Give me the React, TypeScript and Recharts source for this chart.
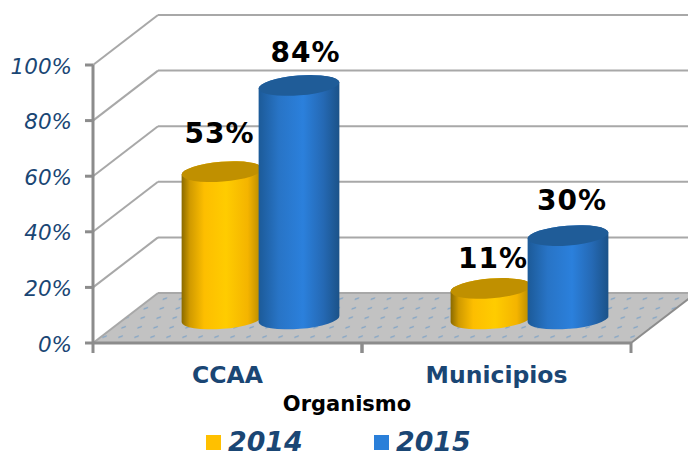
import { Bar, BarChart, CartesianGrid, Legend, LabelList, XAxis, YAxis } from "recharts";

const categories = ["CCAA", "Municipios"];
const values2014 = [53, 11];
const values2015 = [84, 30];
const yTicks = [0, 20, 40, 60, 80, 100];

const chartData = categories.map((name, i) => ({
  name,
  y2014: values2014[i],
  y2015: values2015[i],
}));

const FONT = "'DejaVu Sans', Verdana, sans-serif";
const NAVY = "#1a4674";
const AXIS_GREY = "#8c8c8c";
const GRID_GREY = "#a8a8a8";

// fake 3D: the back wall sits this far from the front plane
const DEPTH_X = 65;
const DEPTH_Y = -50;
// cylinders stand halfway into the floor
const BAR_DX = 32.5;
const BAR_DY = -24;
const ELLIPSE_RY = 9.9;
const TILT = 4.5;

// hand placement of the value labels, per category: [dx, dy from bar top]
const nudge2014 = [[-2.5, -62.5], [2, -54]];
const nudge2015 = [[6.5, -56.5], [4, -59]];

function wallLine(props: any) {
  const { x1, x2, y1 } = props;
  const isFloor = y1 > 300;
  return (
    <g key={`wall-${y1}`}>
      {isFloor && (
        <>
          <polygon
            points={`${x1},${y1} ${x1 + DEPTH_X},${y1 + DEPTH_Y} ${x2 + DEPTH_X},${y1 + DEPTH_Y} ${x2},${y1}`}
            fill="url(#floorDots)"
          />
          <line x1={x2} y1={y1} x2={x2 + DEPTH_X} y2={y1 + DEPTH_Y} stroke={AXIS_GREY} strokeWidth={2} />
        </>
      )}
      <line x1={x1} y1={y1} x2={x1 + DEPTH_X} y2={y1 + DEPTH_Y} stroke={GRID_GREY} strokeWidth={2} />
      <line x1={x1 + DEPTH_X} y1={y1 + DEPTH_Y} x2={x2 + DEPTH_X} y2={y1 + DEPTH_Y} stroke={GRID_GREY} strokeWidth={2} />
    </g>
  );
}

function Cylinder(props: any) {
  const { x, y, width, height, gradient, capColor } = props;
  const cx = x + width / 2 + BAR_DX;
  const top = y + BAR_DY;
  const bottom = y + height + BAR_DY;
  const rx = width / 2;
  const rad = (TILT * Math.PI) / 180;
  const ex = rx * Math.cos(rad);
  const ey = rx * Math.sin(rad);
  const body =
    `M${cx - ex},${top + ey} L${cx - ex},${bottom + ey} ` +
    `A${rx},${ELLIPSE_RY} ${-TILT} 0 0 ${cx + ex},${bottom - ey} ` +
    `L${cx + ex},${top - ey} ` +
    `A${rx},${ELLIPSE_RY} ${-TILT} 0 0 ${cx - ex},${top + ey} Z`;
  return (
    <g>
      <path d={body} fill={`url(#${gradient})`} />
      <ellipse cx={cx} cy={top} rx={rx} ry={ELLIPSE_RY} fill={capColor} transform={`rotate(${-TILT} ${cx} ${top})`} />
    </g>
  );
}

const valueLabel = (nudges: number[][]) => (props: any) => {
  const { x, y, width, value, index } = props;
  const [dx, dy] = nudges[index];
  return (
    <text
      x={x + width / 2 + dx + BAR_DX}
      y={y + dy}
      textAnchor="middle"
      dominantBaseline="central"
      fontFamily={FONT}
      fontWeight="bold"
      fontSize={28}
      letterSpacing={1}
      fill="#000"
    >
      {value}%
    </text>
  );
};

function CategoryTick(props: any) {
  const { x, y, width, payload } = props;
  const half = width / categories.length / 2;
  const axisY = y - 6;
  return (
    <g>
      <line x1={x - half} y1={axisY} x2={x - half} y2={axisY + 10} stroke={AXIS_GREY} strokeWidth={3} />
      <line x1={x + half} y1={axisY} x2={x + half} y2={axisY + 10} stroke={AXIS_GREY} strokeWidth={3} />
      <text x={x} y={375} textAnchor="middle" dominantBaseline="central" fontFamily={FONT} fontWeight="bold" fontSize={23.5} fill={NAVY}>
        {payload.value}
      </text>
    </g>
  );
}

function LegendContent({ payload }: any) {
  return (
    <div style={{ display: "flex", fontFamily: FONT, fontWeight: "bold", fontStyle: "italic", fontSize: 26.8, color: NAVY, lineHeight: "20px" }}>
      {(payload ?? []).map((entry: any) => (
        <div key={entry.value} style={{ display: "flex", alignItems: "center", width: 168 }}>
          <span style={{ display: "inline-block", width: 15, height: 15, marginRight: 7, background: entry.color }} />
          {entry.value}
        </div>
      ))}
    </div>
  );
}

export default function App() {
  return (
    <div style={{ position: "absolute", left: 0, top: 0, width: 688, height: 452, background: "#fff", overflow: "hidden" }}>
      <BarChart
        width={688}
        height={452}
        data={chartData}
        margin={{ top: 65, right: 57, bottom: 0, left: 0 }}
        barSize={81}
        barGap={-4}
      >
        <defs>
          <linearGradient id="gold" x1="0" y1="0" x2="1" y2="0">
            <stop offset="0%" stopColor="#8a6a00" />
            <stop offset="10%" stopColor="#d09a00" />
            <stop offset="28%" stopColor="#fdbe00" />
            <stop offset="55%" stopColor="#ffcc00" />
            <stop offset="82%" stopColor="#f4b400" />
            <stop offset="100%" stopColor="#b08600" />
          </linearGradient>
          <linearGradient id="blue" x1="0" y1="0" x2="1" y2="0">
            <stop offset="0%" stopColor="#1c5a98" />
            <stop offset="25%" stopColor="#2874c6" />
            <stop offset="55%" stopColor="#2b80dc" />
            <stop offset="80%" stopColor="#2569b4" />
            <stop offset="100%" stopColor="#1b5288" />
          </linearGradient>
          <pattern id="floorDots" patternUnits="userSpaceOnUse" width={16} height={9.5} patternTransform="skewX(-18)">
            <rect width={16} height={9.5} fill="#c2c2c2" />
            <line x1={4} y1={5} x2={8} y2={3.5} stroke="#7fa3c6" strokeWidth={1.3} />
          </pattern>
        </defs>
        <CartesianGrid vertical={false} horizontal={wallLine} />
        <XAxis
          dataKey="name"
          height={109}
          axisLine={{ stroke: AXIS_GREY, strokeWidth: 3 }}
          tickLine={false}
          tick={<CategoryTick />}
          tickMargin={0}
          interval={0}
          label={{
            value: "Organismo",
            position: "insideBottom",
            offset: 41,
            dx: -15,
            style: { fontFamily: FONT, fontWeight: "bold", fontSize: 21, fill: "#000" },
          }}
        />
        <YAxis
          domain={[0, 100]}
          ticks={yTicks}
          width={93}
          axisLine={{ stroke: AXIS_GREY, strokeWidth: 3 }}
          tickLine={{ stroke: AXIS_GREY, strokeWidth: 3 }}
          tickSize={8}
          tickMargin={13}
          tickFormatter={(v) => `${v}%`}
          tick={{ fontFamily: FONT, fontStyle: "italic", fontSize: 21.5, fill: NAVY, dy: 1 }}
        />
        <Legend
          layout="horizontal"
          verticalAlign="middle"
          align="center"
          wrapperStyle={{ position: "absolute", left: 206, top: 432, width: 340, height: 20 }}
          content={<LegendContent />}
        />
        <Bar
          dataKey="y2014"
          name="2014"
          fill="#ffc000"
          isAnimationActive={false}
          shape={<Cylinder gradient="gold" capColor="#c09000" />}
        >
          <LabelList dataKey="y2014" content={valueLabel(nudge2014)} />
        </Bar>
        <Bar
          dataKey="y2015"
          name="2015"
          fill="#2a7fd9"
          isAnimationActive={false}
          shape={<Cylinder gradient="blue" capColor="#1f5c98" />}
        >
          <LabelList dataKey="y2015" content={valueLabel(nudge2015)} />
        </Bar>
      </BarChart>
    </div>
  );
}
